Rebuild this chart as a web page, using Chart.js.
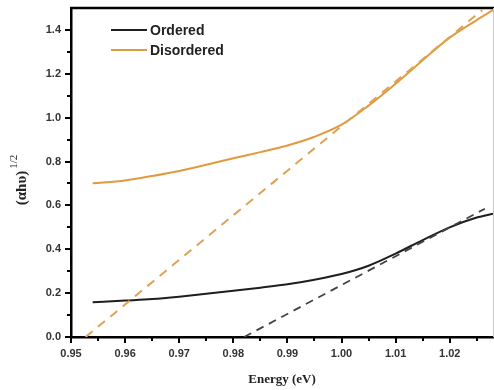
<!DOCTYPE html>
<html>
<head>
<meta charset="utf-8">
<script src="https://cdn.jsdelivr.net/npm/chart.js@4.4.1/dist/chart.umd.min.js"></script>
<style>
  html, body { margin: 0; padding: 0; background: #fff; }
  #wrap { width: 494px; height: 390px; }
</style>
</head>
<body>
<div id="wrap"><canvas id="absChart" width="494" height="390"></canvas></div>
<script>
// series names
var seriesNames = ['Ordered', 'Disordered'];

// ordered sample, (alpha h nu)^1/2 vs energy
var energyOrdered = [0.954, 0.96, 0.965, 0.97, 0.975, 0.98, 0.985, 0.99, 0.995, 1.0, 1.005, 1.01, 1.015, 1.02, 1.025, 1.028];
var valuesOrdered = [0.158, 0.166, 0.173, 0.184, 0.197, 0.211, 0.225, 0.240, 0.261, 0.287, 0.325, 0.380, 0.442, 0.500, 0.545, 0.562];

// disordered sample
var energyDisordered = [0.954, 0.96, 0.965, 0.97, 0.975, 0.98, 0.985, 0.99, 0.995, 1.0, 1.005, 1.01, 1.015, 1.02, 1.025, 1.028];
var valuesDisordered = [0.701, 0.714, 0.734, 0.757, 0.785, 0.815, 0.843, 0.873, 0.913, 0.968, 1.055, 1.155, 1.262, 1.365, 1.445, 1.49];

// linear fits (dashed), end points
var fitOrderedX = [0.982, 1.0265];
var fitOrderedY = [0, 0.585];
var fitDisorderedX = [0.9527, 1.026];
var fitDisorderedY = [0, 1.49];

// tick labels
var xTicks = [0.95, 0.96, 0.97, 0.98, 0.99, 1.00, 1.01, 1.02];
var yTicks = [0.0, 0.2, 0.4, 0.6, 0.8, 1.0, 1.2, 1.4];

var xTitle = 'Energy (eV)';

function toPoints(xs, ys) {
  var pts = [];
  for (var i = 0; i < xs.length; i++) {
    pts.push({x: xs[i], y: ys[i]});
  }
  return pts;
}

var black = '#1e1e1e';
var orange = '#e29a3e';
var orangeDash = '#dfa255';

// minor ticks, titles, legend, frame
var decorPlugin = {
  id: 'decor',
  afterDraw: function(chart) {
    var ctx = chart.ctx;
    var xs = chart.scales.x, ys = chart.scales.y;
    var area = chart.chartArea;
    ctx.save();

    // top frame + right edge
    ctx.strokeStyle = '#000';
    ctx.lineWidth = 2.5;
    ctx.beginPath();
    ctx.moveTo(area.left - 1, area.top);
    ctx.lineTo(494, area.top);
    ctx.stroke();
    ctx.strokeStyle = '#c8c8c8';
    ctx.lineWidth = 1;
    ctx.beginPath();
    ctx.moveTo(493.5, area.top);
    ctx.lineTo(493.5, area.bottom);
    ctx.stroke();

    // tick marks
    ctx.strokeStyle = '#000';
    ctx.lineWidth = 2;
    var v, p, major;
    for (var i = 0; i <= 15; i++) {
      v = 0.95 + i * 0.005;
      p = Math.round(xs.getPixelForValue(v));
      major = (i % 2 == 0);
      ctx.beginPath();
      ctx.moveTo(p, area.bottom);
      ctx.lineTo(p, area.bottom + (major ? 6 : 4));
      ctx.stroke();
    }
    for (var j = 0; j <= 14; j++) {
      v = j * 0.1;
      p = Math.round(ys.getPixelForValue(v));
      major = (j % 2 == 0);
      ctx.beginPath();
      ctx.moveTo(area.left, p);
      ctx.lineTo(area.left - (major ? 6 : 4), p);
      ctx.stroke();
    }

    // x title
    ctx.fillStyle = '#222';
    ctx.font = 'bold 13px "Liberation Serif", "DejaVu Serif", serif';
    ctx.textAlign = 'center';
    ctx.textBaseline = 'middle';
    ctx.fillText(xTitle, (area.left + area.right) / 2, 380);

    // y title with superscript
    ctx.save();
    ctx.translate(22, 180);
    ctx.rotate(-Math.PI / 2);
    ctx.textAlign = 'left';
    ctx.textBaseline = 'middle';
    ctx.font = 'bold 15px "Liberation Serif", "DejaVu Serif", serif';
    var base = '(\u03b1h\u03c5)';
    var w = ctx.measureText(base).width;
    ctx.font = '11px "Liberation Serif", "DejaVu Serif", serif';
    var sup = '1/2';
    var w3 = ctx.measureText(sup).width;
    var start = -(w + 2 + w3) / 2;
    ctx.font = 'bold 15px "Liberation Serif", "DejaVu Serif", serif';
    ctx.fillText(base, start, 0);
    ctx.font = '11px "Liberation Serif", "DejaVu Serif", serif';
    ctx.fillText(sup, start + w + 2, -8);
    ctx.restore();

    // legend
    var colors = [black, orange];
    ctx.font = 'bold 14px "Liberation Sans", Arial, sans-serif';
    ctx.textAlign = 'left';
    ctx.textBaseline = 'middle';
    for (var k = 0; k < seriesNames.length; k++) {
      var ly = 30 + k * 20;
      ctx.strokeStyle = colors[k];
      ctx.lineWidth = 2;
      ctx.beginPath();
      ctx.moveTo(111, ly);
      ctx.lineTo(147, ly);
      ctx.stroke();
      ctx.fillStyle = '#222';
      ctx.fillText(seriesNames[k], 150, ly + 1);
    }
    ctx.restore();
  }
};

var config = {
  type: 'scatter',
  data: {
    datasets: [
      {
        label: 'fit ' + seriesNames[0],
        data: toPoints(fitOrderedX, fitOrderedY),
        showLine: true,
        borderColor: '#444',
        borderWidth: 1.8,
        borderDash: [8, 6],
        pointRadius: 0
      },
      {
        label: 'fit ' + seriesNames[1],
        data: toPoints(fitDisorderedX, fitDisorderedY),
        showLine: true,
        borderColor: orangeDash,
        borderWidth: 2,
        borderDash: [9, 7],
        pointRadius: 0
      },
      {
        label: seriesNames[0],
        data: toPoints(energyOrdered, valuesOrdered),
        showLine: true,
        borderColor: black,
        borderWidth: 2,
        cubicInterpolationMode: 'monotone',
        pointRadius: 0
      },
      {
        label: seriesNames[1],
        data: toPoints(energyDisordered, valuesDisordered),
        showLine: true,
        borderColor: orange,
        borderWidth: 2,
        cubicInterpolationMode: 'monotone',
        pointRadius: 0
      }
    ]
  },
  options: {
    responsive: false,
    animation: false,
    layout: { padding: { top: 8, right: 1, left: 0, bottom: 0 } },
    plugins: {
      legend: { display: false },
      tooltip: { enabled: false }
    },
    scales: {
      x: {
        type: 'linear',
        min: 0.95,
        max: 1.028,
        afterBuildTicks: function(scale) {
          scale.ticks = xTicks.map(function(v) { return {value: v}; });
        },
        afterFit: function(scale) {
          scale.height = 53;
          scale.paddingLeft = 0;
          scale.paddingRight = 0;
        },
        grid: { display: false, drawTicks: false },
        border: { display: true, color: '#000', width: 2.5 },
        ticks: {
          padding: 10,
          color: '#333',
          font: { family: '"Liberation Sans", Arial, sans-serif', size: 11, weight: 'bold' },
          maxRotation: 0,
          callback: function(v) { return Number(v).toFixed(2); }
        }
      },
      y: {
        type: 'linear',
        min: 0,
        max: 1.5,
        afterBuildTicks: function(scale) {
          scale.ticks = yTicks.map(function(v) { return {value: v}; });
        },
        afterFit: function(scale) {
          scale.width = 71;
          scale.paddingTop = 0;
          scale.paddingBottom = 0;
        },
        grid: { display: false, drawTicks: false },
        border: { display: true, color: '#000', width: 2.5 },
        ticks: {
          padding: 10,
          color: '#333',
          font: { family: '"Liberation Sans", Arial, sans-serif', size: 11, weight: 'bold' },
          callback: function(v) { return Number(v).toFixed(1); }
        }
      }
    }
  },
  plugins: [decorPlugin]
};

var absChart = new Chart(document.getElementById('absChart'), config);
</script>
</body>
</html>
